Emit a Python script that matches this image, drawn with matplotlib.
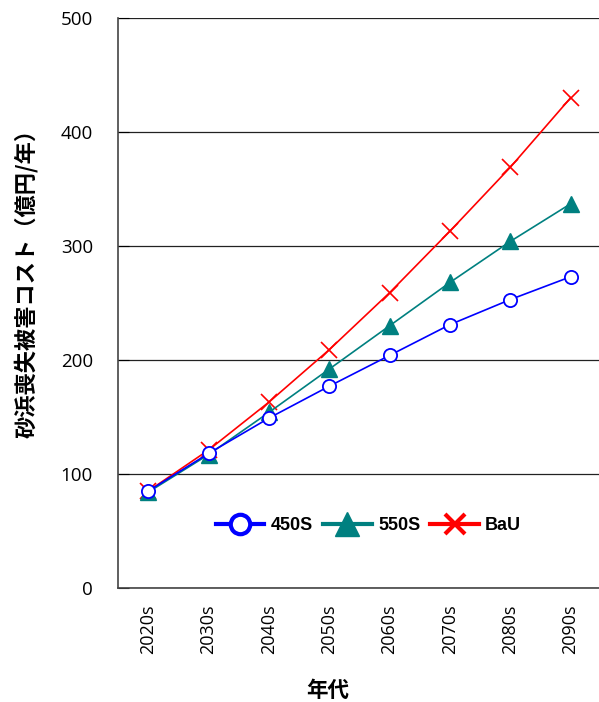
import matplotlib
matplotlib.use('Agg')
import matplotlib.pyplot as plt
from matplotlib.lines import Line2D

# 年代ごとの砂浜喪失被害コスト（億円/年）
decades = ['2020s', '2030s', '2040s', '2050s', '2060s', '2070s', '2080s', '2090s']
cost_450s = [85, 118, 149, 177, 204, 231, 253, 273]
cost_550s = [84, 117, 154, 192, 230, 268, 304, 337]
cost_bau = [85, 121, 163, 209, 259, 313, 369, 430]

fig = plt.figure(figsize=(5.99, 7.02), dpi=100)
ax = fig.add_axes([0.197, 0.1624, 0.806, 0.812])

x = range(len(decades))
ax.plot(x, cost_bau, color='#FF0000', lw=1.2, marker='x', ms=11, mew=1.2, zorder=3)
ax.plot(x, cost_550s, color='#008080', lw=1.2, marker='^', ms=11, zorder=4)
ax.plot(x, cost_450s, color='#0000FF', lw=1.2, marker='o', ms=9.5,
        mfc='white', mew=1.3, zorder=5)

ax.set_xlim(-0.5, 7.5)
ax.set_ylim(0, 500)
ax.set_yticks([0, 100, 200, 300, 400, 500])
ax.set_xticks(list(x))
ax.set_xticklabels(decades, rotation=90, fontfamily='Open Sans', fontsize=13)
ax.tick_params(axis='x', length=0, pad=12)
ax.tick_params(axis='y', direction='in', length=8, pad=18, labelsize=13.5)
for lab in ax.get_yticklabels():
    lab.set_fontfamily('Open Sans')

ax.grid(axis='y', color='#222222', lw=0.9)
ax.set_axisbelow(True)
for side in ['top', 'right']:
    ax.spines[side].set_visible(False)
ax.spines['left'].set_color('#444444')
ax.spines['bottom'].set_color('#444444')
ax.spines['left'].set_linewidth(1.2)
ax.spines['bottom'].set_linewidth(1.2)

ax.set_ylabel('砂浜喪失被害コスト（億円/年）', fontfamily='Noto Sans CJK JP',
              fontweight='bold', fontsize=16)
ax.yaxis.set_label_coords(-0.166, 0.544)
ax.set_xlabel('年代', fontfamily='Noto Sans CJK JP', fontweight='bold', fontsize=15.5)
ax.xaxis.set_label_coords((327 - 118) / 482, -0.162)

# 凡例は線と記号を大きめに
handles = [
    Line2D([], [], color='#0000FF', lw=3, marker='o', ms=14, mfc='white', mew=3),
    Line2D([], [], color='#008080', lw=3, marker='^', ms=17),
    Line2D([], [], color='#FF0000', lw=3, marker='x', ms=14, mew=3),
]
leg = ax.legend(handles, ['450S', '550S', 'BaU'], loc='center', ncol=3,
                bbox_to_anchor=((368 - 118) / 482, (588 - 526) / 570),
                frameon=False, handlelength=2.7, columnspacing=0.55,
                handletextpad=0.35,
                prop={'family': 'Liberation Sans', 'weight': 'bold', 'size': 13})

fig.savefig('out.png', dpi=100)
